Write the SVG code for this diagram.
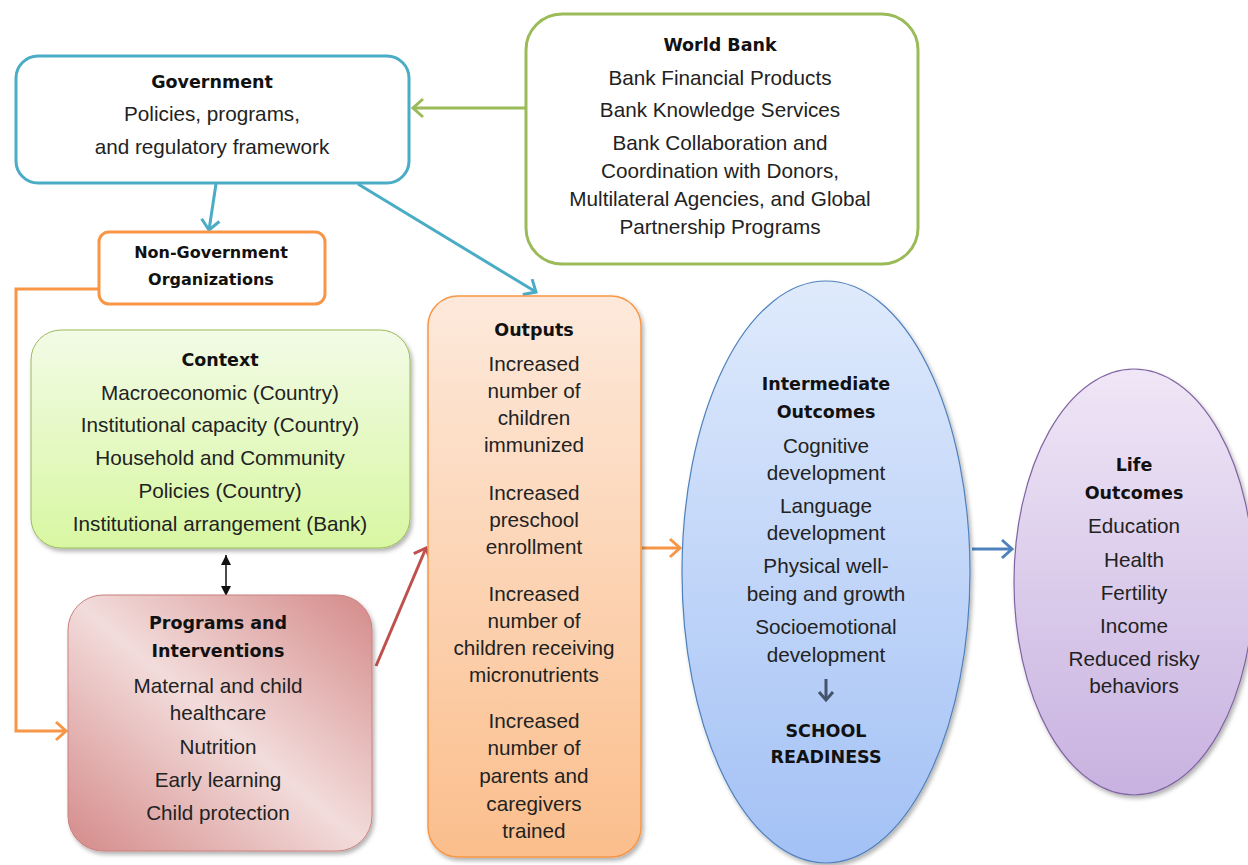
<svg xmlns="http://www.w3.org/2000/svg" width="1248" height="865" viewBox="0 0 1248 865">
<style>
.t{font-family:"Liberation Sans",Arial,sans-serif;font-size:20.7px;fill:#222;text-anchor:middle}
.b{font-family:"DejaVu Sans",Tahoma,sans-serif;font-size:17.5px;font-weight:bold;fill:#111;text-anchor:middle}
.c{fill:none;stroke-width:3}
</style>
<defs>
<marker id="ab" markerUnits="userSpaceOnUse" markerWidth="24" markerHeight="24" refX="12" refY="12" orient="auto" viewBox="0 0 24 24"><path d="M2,3 L12,12 L2,21" fill="none" stroke="#4bacc6" stroke-width="3"/></marker>
<marker id="ag" markerUnits="userSpaceOnUse" markerWidth="24" markerHeight="24" refX="12" refY="12" orient="auto" viewBox="0 0 24 24"><path d="M2,3 L12,12 L2,21" fill="none" stroke="#9bbb59" stroke-width="3"/></marker>
<marker id="ao" markerUnits="userSpaceOnUse" markerWidth="24" markerHeight="24" refX="12" refY="12" orient="auto" viewBox="0 0 24 24"><path d="M2,3 L12,12 L2,21" fill="none" stroke="#f79646" stroke-width="3"/></marker>
<marker id="ar" markerUnits="userSpaceOnUse" markerWidth="24" markerHeight="24" refX="12" refY="12" orient="auto" viewBox="0 0 24 24"><path d="M2,3 L12,12 L2,21" fill="none" stroke="#c0504d" stroke-width="3"/></marker>
<marker id="an" markerUnits="userSpaceOnUse" markerWidth="24" markerHeight="24" refX="12" refY="12" orient="auto" viewBox="0 0 24 24"><path d="M2,3 L12,12 L2,21" fill="none" stroke="#4f81bd" stroke-width="3"/></marker>
<marker id="ad" markerUnits="userSpaceOnUse" markerWidth="20" markerHeight="20" refX="10" refY="10" orient="auto" viewBox="0 0 20 20"><path d="M2,3 L10,10 L2,17" fill="none" stroke="#44546a" stroke-width="3"/></marker>
<marker id="ak" markerUnits="userSpaceOnUse" markerWidth="12" markerHeight="12" refX="10" refY="6" orient="auto-start-reverse" viewBox="0 0 12 12"><path d="M0,1 L10,6 L0,11 Z" fill="#111"/></marker>
<linearGradient id="gC" x1="0" y1="0" x2="0" y2="1"><stop offset="0" stop-color="#f2fbe6"/><stop offset="1" stop-color="#d8f7a2"/></linearGradient>
<linearGradient id="gP" x1="1" y1="0" x2="0" y2="1"><stop offset="0" stop-color="#d48a89"/><stop offset="0.5" stop-color="#f2dcdb"/><stop offset="1" stop-color="#d48a89"/></linearGradient>
<linearGradient id="gO" x1="0" y1="0" x2="0" y2="1"><stop offset="0" stop-color="#fde9db"/><stop offset="1" stop-color="#fbbe8c"/></linearGradient>
<linearGradient id="gI" x1="0" y1="0" x2="0" y2="1"><stop offset="0" stop-color="#dfeafc"/><stop offset="1" stop-color="#a3c1f5"/></linearGradient>
<linearGradient id="gL" x1="0" y1="0" x2="0" y2="1"><stop offset="0" stop-color="#efe6f6"/><stop offset="1" stop-color="#c8b2e0"/></linearGradient>
<filter id="sh" x="-10%" y="-10%" width="125%" height="125%"><feDropShadow dx="2" dy="3" stdDeviation="2" flood-color="#000" flood-opacity="0.3"/></filter>
</defs>

<g id="connectors">
<line class="c" x1="526" y1="108" x2="413" y2="108" stroke="#9bbb59" marker-end="url(#ag)"/>
<line class="c" x1="216" y1="184" x2="209" y2="230" stroke="#4bacc6" marker-end="url(#ab)"/>
<line class="c" x1="358" y1="184" x2="536" y2="292" stroke="#4bacc6" marker-end="url(#ab)"/>
<polyline class="c" points="99,289 16,289 16,731 66,731" stroke="#f79646" marker-end="url(#ao)"/>
<line x1="226" y1="555" x2="226" y2="596" stroke="#111" stroke-width="1.5" marker-start="url(#ak)" marker-end="url(#ak)"/>
<line class="c" x1="376" y1="666" x2="426" y2="548" stroke="#c0504d" marker-end="url(#ar)"/>
<line class="c" x1="642" y1="548" x2="680" y2="548" stroke="#f79646" marker-end="url(#ao)"/>
<line class="c" x1="972" y1="549" x2="1012" y2="549" stroke="#4f81bd" marker-end="url(#an)"/>
</g>

<g id="government">
<rect x="16" y="56" width="393" height="127" rx="22" fill="#fff" stroke="#4bacc6" stroke-width="3"/>
<text class="b" x="212" y="88">Government</text>
<text class="t" x="212" y="121">Policies, programs,</text>
<text class="t" x="212" y="154">and regulatory framework</text>
</g>

<g id="worldbank">
<rect x="526" y="14" width="392" height="250" rx="36" fill="#fff" stroke="#9bbb59" stroke-width="3"/>
<text class="b" x="720" y="51">World Bank</text>
<text class="t" x="720" y="85">Bank Financial Products</text>
<text class="t" x="720" y="117">Bank Knowledge Services</text>
<text class="t" x="720" y="150">Bank Collaboration and</text>
<text class="t" x="720" y="178">Coordination with Donors,</text>
<text class="t" x="720" y="206">Multilateral Agencies, and Global</text>
<text class="t" x="720" y="234">Partnership Programs</text>
</g>

<g id="ngo">
<rect x="99" y="232" width="226" height="72" rx="10" fill="#fff" stroke="#f79646" stroke-width="3"/>
<text class="b" x="211" y="258" style="font-size:16px">Non-Government</text>
<text class="b" x="211" y="285" style="font-size:16px">Organizations</text>
</g>

<g id="context">
<rect x="31" y="330" width="379" height="218" rx="30" fill="url(#gC)" stroke="#9bbb59" stroke-width="1" filter="url(#sh)"/>
<text class="b" x="220" y="366">Context</text>
<text class="t" x="220" y="400">Macroeconomic (Country)</text>
<text class="t" x="220" y="432">Institutional capacity (Country)</text>
<text class="t" x="220" y="465">Household and Community</text>
<text class="t" x="220" y="498">Policies (Country)</text>
<text class="t" x="220" y="531">Institutional arrangement (Bank)</text>
</g>

<g id="programs">
<rect x="68" y="595" width="304" height="256" rx="35" fill="url(#gP)" stroke="#c9807e" stroke-width="1" filter="url(#sh)"/>
<text class="b" x="218" y="629">Programs and</text>
<text class="b" x="218" y="657">Interventions</text>
<text class="t" x="218" y="693">Maternal and child</text>
<text class="t" x="218" y="720">healthcare</text>
<text class="t" x="218" y="754">Nutrition</text>
<text class="t" x="218" y="787">Early learning</text>
<text class="t" x="218" y="820">Child protection</text>
</g>

<g id="outputs">
<rect x="428" y="296" width="213" height="561" rx="30" fill="url(#gO)" stroke="#f79646" stroke-width="1.5" filter="url(#sh)"/>
<text class="b" x="534" y="336">Outputs</text>
<text class="t" x="534" y="371">Increased</text>
<text class="t" x="534" y="398">number of</text>
<text class="t" x="534" y="425">children</text>
<text class="t" x="534" y="452">immunized</text>
<text class="t" x="534" y="500">Increased</text>
<text class="t" x="534" y="527">preschool</text>
<text class="t" x="534" y="554">enrollment</text>
<text class="t" x="534" y="601">Increased</text>
<text class="t" x="534" y="628">number of</text>
<text class="t" x="534" y="655">children receiving</text>
<text class="t" x="534" y="682">micronutrients</text>
<text class="t" x="534" y="728">Increased</text>
<text class="t" x="534" y="755">number of</text>
<text class="t" x="534" y="783">parents and</text>
<text class="t" x="534" y="811">caregivers</text>
<text class="t" x="534" y="838">trained</text>
</g>

<g id="intermediate">
<ellipse cx="826" cy="572" rx="144" ry="291" fill="url(#gI)" stroke="#4f81bd" stroke-width="1.2" filter="url(#sh)"/>
<text class="b" x="826" y="390">Intermediate</text>
<text class="b" x="826" y="418">Outcomes</text>
<text class="t" x="826" y="453">Cognitive</text>
<text class="t" x="826" y="480">development</text>
<text class="t" x="826" y="513">Language</text>
<text class="t" x="826" y="540">development</text>
<text class="t" x="826" y="573">Physical well-</text>
<text class="t" x="826" y="601">being and growth</text>
<text class="t" x="826" y="634">Socioemotional</text>
<text class="t" x="826" y="662">development</text>
<line x1="826" y1="679" x2="826" y2="700" stroke="#44546a" stroke-width="3" marker-end="url(#ad)"/>
<text class="b" x="826" y="737">SCHOOL</text>
<text class="b" x="826" y="763">READINESS</text>
</g>

<g id="life">
<ellipse cx="1134" cy="582" rx="120" ry="213" fill="url(#gL)" stroke="#8064a2" stroke-width="1.2" filter="url(#sh)"/>
<text class="b" x="1134" y="471">Life</text>
<text class="b" x="1134" y="499">Outcomes</text>
<text class="t" x="1134" y="533">Education</text>
<text class="t" x="1134" y="567">Health</text>
<text class="t" x="1134" y="600">Fertility</text>
<text class="t" x="1134" y="633">Income</text>
<text class="t" x="1134" y="666">Reduced risky</text>
<text class="t" x="1134" y="693">behaviors</text>
</g>
</svg>
